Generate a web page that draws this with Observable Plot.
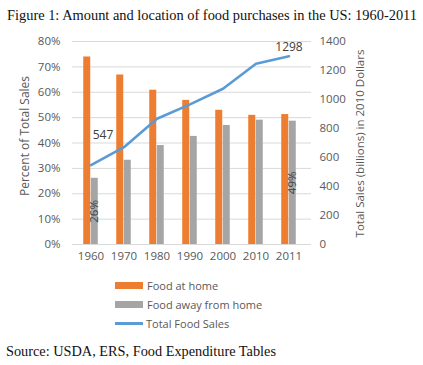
<!DOCTYPE html>
<html><head><meta charset="utf-8">
<script src="https://cdn.jsdelivr.net/npm/d3@7"></script>
<script src="https://cdn.jsdelivr.net/npm/@observablehq/plot@0.6"></script>
<style>
body{margin:0;background:#fff;width:423px;height:365px;position:relative;overflow:hidden;font-family:"Open Sans",sans-serif}
#title{position:absolute;left:7px;top:6px;font-family:"Liberation Serif",serif;font-size:14.4px;color:#111;white-space:nowrap;line-height:18px}
#chart{position:absolute;left:0;top:0}
.leg{position:absolute;left:115px;font-size:11px;color:#595959;display:flex;align-items:center;height:14px;white-space:nowrap}
.sw{width:28px;height:7px;margin-right:4px}
.ln{width:28px;height:3px;margin-right:3px}
#source{position:absolute;left:6px;top:342px;font-family:"Liberation Serif",serif;font-size:14.3px;color:#111;white-space:nowrap;line-height:18px}
</style></head>
<body>
<div id="title">Figure 1: Amount and location of food purchases in the US: 1960-2011</div>
<div id="chart"></div>
<div class="leg" style="top:278px"><div class="sw" style="background:#ED7D31"></div>Food at home</div>
<div class="leg" style="top:297px"><div class="sw" style="background:#A5A5A5"></div>Food away from home</div>
<div class="leg" style="top:316px"><div class="ln" style="background:#5B9BD5"></div>Total Food Sales</div>
<div id="source">Source: USDA, ERS, Food Expenditure Tables</div>
<script>
const years = ["1960","1970","1980","1990","2000","2010","2011"];
const foodAtHome = [73.9, 66.8, 60.8, 56.8, 52.9, 50.9, 51.2];
const foodAwayFromHome = [26.1, 33.2, 39.0, 42.6, 46.9, 49.0, 48.6];
const totalFoodSales = [547, 671, 867, 966, 1074, 1246, 1298];
const leftTicks = [0,10,20,30,40,50,60,70,80];
const rightTicks = [0,200,400,600,800,1000,1200,1400];

const toPct = d3.scaleLinear([0,1400],[0,80]);
const data = years.map((year,i)=>({year, home: foodAtHome[i], away: foodAwayFromHome[i], total: totalFoodSales[i], i}));
const ends = data.filter(d => d.i === 0 || d.i === data.length-1);
const half = 3.76;

const chart = Plot.plot({
  width: 423, height: 270,
  marginTop: 41, marginBottom: 26, marginLeft: 72, marginRight: 112,
  style: {fontFamily: "'Open Sans', sans-serif", fontSize: "11px", color: "#595959", background: "transparent", overflow: "visible"},
  x: {type: "band", domain: years, range: [59.6, 319.7], padding: 0.775, axis: null},
  y: {domain: [0, 80], axis: null},
  marks: [
    Plot.ruleY(leftTicks, {stroke: "#d9d9d9", strokeWidth: 1}),
    Plot.barY(data, {x: "year", y: "home", fill: "#ED7D31", dx: -half}),
    Plot.barY(data, {x: "year", y: "away", fill: "#A5A5A5", dx: half}),
    Plot.line(data, {x: "year", y: d => toPct(d.total), stroke: "#5B9BD5", strokeWidth: 2.6}),
    Plot.text(ends, {x: "year", y: d => d.away / 2, text: d => Math.round(d.away) + "%", rotate: -90, dx: half, fill: "#404040", fontSize: 11.5}),
    Plot.text(ends.slice(0,1), {x: "year", y: d => toPct(d.total), text: d => String(d.total), dx: 12, dy: -30, fill: "#404040", fontSize: 12}),
    Plot.text(ends.slice(1), {x: "year", y: d => toPct(d.total), text: d => String(d.total), dx: 0, dy: -9, fill: "#404040", fontSize: 12}),
    Plot.axisX({tickSize: 0, tickPadding: 7, label: null, fontSize: 11.5}),
    Plot.axisY(leftTicks, {anchor: "left", tickSize: 0, tickPadding: 12, tickFormat: d => d + "%", label: null, fontSize: 11.5}),
    Plot.axisY(rightTicks.map(toPct), {anchor: "right", tickSize: 0, tickPadding: 8, tickFormat: d => String(Math.round(toPct.invert(d))), label: null, fontSize: 11.5}),
    Plot.text(["Percent of Total Sales"], {frameAnchor: "left", textAnchor: "middle", rotate: -90, dx: -47, dy: -7, fill: "#595959", fontSize: 12}),
    Plot.text(["Total Sales (billions) in 2010 Dollars"], {frameAnchor: "right", textAnchor: "middle", rotate: -90, dx: 49, dy: 0.5, fill: "#595959", fontSize: 11.5})
  ]
});
document.getElementById("chart").append(chart);
</script>
</body></html>
